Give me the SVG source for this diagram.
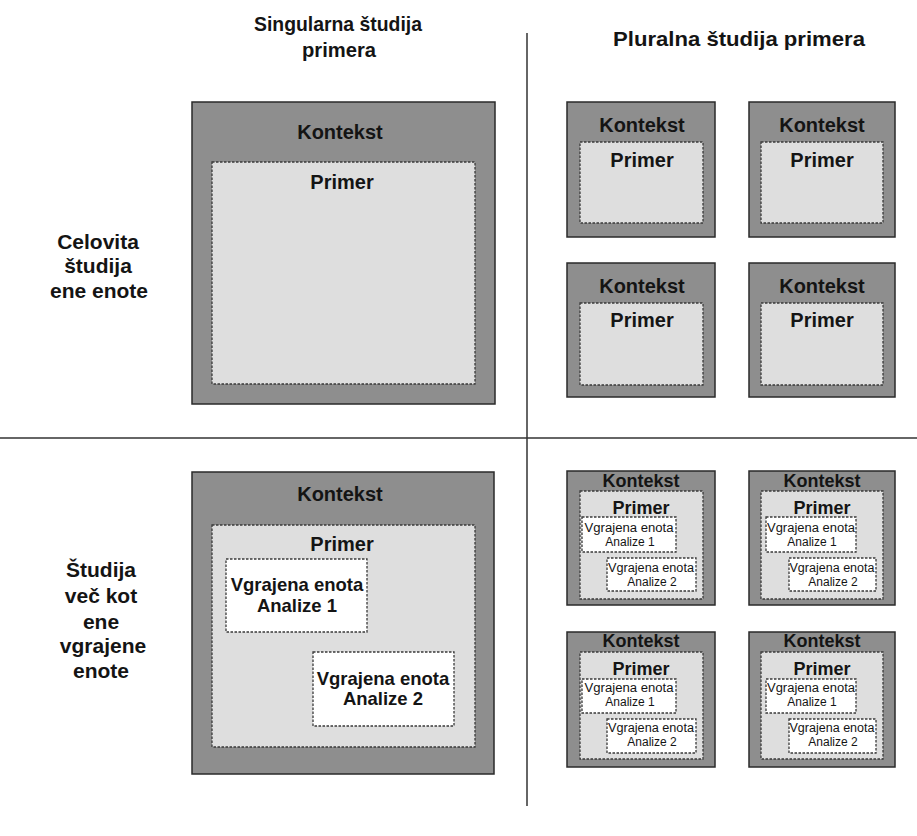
<svg xmlns="http://www.w3.org/2000/svg" width="917" height="836" viewBox="0 0 917 836">
<style>
text{font-family:"Liberation Sans",Arial,sans-serif;fill:#141414;text-anchor:middle}
.hdr{font-size:21px;font-weight:bold}
.lbl{font-size:21px;font-weight:bold}
.ctx{fill:#8e8e8e;stroke:#2a2a2a;stroke-width:1.5}
.case{fill:#dedede;stroke:#3a3a3a;stroke-width:1.3;stroke-dasharray:2.5 1.5}
.unit{fill:#ffffff;stroke:#3a3a3a;stroke-width:1.3;stroke-dasharray:2.5 1.5}
.t20{font-size:20px;font-weight:bold}
.t18{font-size:18px;font-weight:bold}
.u18{font-size:18.5px;font-weight:bold}
.u13{font-size:12px}
.axis{stroke:#333;stroke-width:1.5}
</style>
<g id="axes">
<line class="axis" x1="0" y1="438" x2="917" y2="438"/>
<line class="axis" x1="527" y1="33" x2="527" y2="806"/>
</g>
<g id="headers">
<text class="hdr" x="338" y="31" textLength="168" lengthAdjust="spacingAndGlyphs">Singularna študija</text>
<text class="hdr" x="339" y="57" textLength="74" lengthAdjust="spacingAndGlyphs">primera</text>
<text class="hdr" x="739" y="46" textLength="252" lengthAdjust="spacingAndGlyphs">Pluralna študija primera</text>
</g>
<g id="row-labels">
<text class="lbl" x="98" y="249">Celovita</text>
<text class="lbl" x="98" y="273">študija</text>
<text class="lbl" x="99" y="298">ene enote</text>
<text class="lbl" x="101" y="577">Študija</text>
<text class="lbl" x="101" y="603">več kot</text>
<text class="lbl" x="101" y="629">ene</text>
<text class="lbl" x="103" y="653">vgrajene</text>
<text class="lbl" x="101" y="678">enote</text>
</g>
<g id="single-holistic">
<rect class="ctx" x="192" y="102" width="303" height="302"/>
<rect class="case" x="212" y="162" width="263" height="222"/>
<text class="t20" x="340" y="139">Kontekst</text>
<text class="t20" x="342" y="189">Primer</text>
</g>
<g id="single-embedded">
<rect class="ctx" x="192" y="472" width="302" height="302"/>
<rect class="case" x="212" y="525" width="263" height="222"/>
<text class="t20" x="340" y="501">Kontekst</text>
<text class="t20" x="342" y="551">Primer</text>
<rect class="unit" x="226" y="559" width="141" height="73"/>
<text class="u18" x="297" y="591">Vgrajena enota</text>
<text class="u18" x="297" y="612">Analize 1</text>
<rect class="unit" x="313" y="652" width="141" height="74"/>
<text class="u18" x="383" y="685">Vgrajena enota</text>
<text class="u18" x="383" y="705">Analize 2</text>
</g>
<g id="multi-holistic-1">
<rect class="ctx" x="567" y="102" width="148" height="135"/>
<rect class="case" x="580" y="142" width="123" height="81"/>
<text class="t20" x="642" y="132">Kontekst</text>
<text class="t20" x="642" y="167">Primer</text>
</g>
<g id="multi-holistic-2">
<rect class="ctx" x="749" y="102" width="146" height="135"/>
<rect class="case" x="761" y="142" width="122" height="81"/>
<text class="t20" x="822" y="132">Kontekst</text>
<text class="t20" x="822" y="167">Primer</text>
</g>
<g id="multi-holistic-3">
<rect class="ctx" x="567" y="263" width="148" height="134"/>
<rect class="case" x="580" y="303" width="123" height="82"/>
<text class="t20" x="642" y="293">Kontekst</text>
<text class="t20" x="642" y="327">Primer</text>
</g>
<g id="multi-holistic-4">
<rect class="ctx" x="749" y="263" width="146" height="134"/>
<rect class="case" x="761" y="303" width="122" height="82"/>
<text class="t20" x="822" y="293">Kontekst</text>
<text class="t20" x="822" y="327">Primer</text>
</g>
<g id="multi-embedded-1">
<rect class="ctx" x="567" y="471" width="148" height="134"/>
<rect class="case" x="580" y="491" width="123" height="108"/>
<text class="t18" x="641" y="487">Kontekst</text>
<text class="t18" x="641" y="514">Primer</text>
<rect class="unit" x="582" y="517" width="94" height="35"/>
<text class="u13" x="629" y="532" textLength="89" lengthAdjust="spacingAndGlyphs">Vgrajena enota</text>
<text class="u13" x="630" y="546">Analize 1</text>
<rect class="unit" x="607" y="558" width="89" height="33"/>
<text class="u13" x="651" y="572" textLength="86" lengthAdjust="spacingAndGlyphs">Vgrajena enota</text>
<text class="u13" x="652" y="586">Analize 2</text>
</g>
<g id="multi-embedded-2">
<rect class="ctx" x="749" y="471" width="146" height="134"/>
<rect class="case" x="761" y="491" width="122" height="108"/>
<text class="t18" x="822" y="487">Kontekst</text>
<text class="t18" x="822" y="514">Primer</text>
<rect class="unit" x="766" y="517" width="90" height="35"/>
<text class="u13" x="811" y="532" textLength="88" lengthAdjust="spacingAndGlyphs">Vgrajena enota</text>
<text class="u13" x="812" y="546">Analize 1</text>
<rect class="unit" x="789" y="558" width="87" height="33"/>
<text class="u13" x="832" y="572" textLength="85" lengthAdjust="spacingAndGlyphs">Vgrajena enota</text>
<text class="u13" x="833" y="586">Analize 2</text>
</g>
<g id="multi-embedded-3">
<rect class="ctx" x="567" y="632" width="148" height="135"/>
<rect class="case" x="580" y="652" width="123" height="107"/>
<text class="t18" x="641" y="647">Kontekst</text>
<text class="t18" x="641" y="675">Primer</text>
<rect class="unit" x="582" y="679" width="94" height="34"/>
<text class="u13" x="629" y="692" textLength="89" lengthAdjust="spacingAndGlyphs">Vgrajena enota</text>
<text class="u13" x="630" y="706">Analize 1</text>
<rect class="unit" x="607" y="719" width="89" height="34"/>
<text class="u13" x="651" y="732" textLength="86" lengthAdjust="spacingAndGlyphs">Vgrajena enota</text>
<text class="u13" x="652" y="746">Analize 2</text>
</g>
<g id="multi-embedded-4">
<rect class="ctx" x="749" y="632" width="146" height="135"/>
<rect class="case" x="761" y="652" width="122" height="107"/>
<text class="t18" x="822" y="647">Kontekst</text>
<text class="t18" x="822" y="675">Primer</text>
<rect class="unit" x="766" y="679" width="90" height="34"/>
<text class="u13" x="811" y="692" textLength="88" lengthAdjust="spacingAndGlyphs">Vgrajena enota</text>
<text class="u13" x="812" y="706">Analize 1</text>
<rect class="unit" x="789" y="719" width="87" height="34"/>
<text class="u13" x="832" y="732" textLength="85" lengthAdjust="spacingAndGlyphs">Vgrajena enota</text>
<text class="u13" x="833" y="746">Analize 2</text>
</g>
</svg>
